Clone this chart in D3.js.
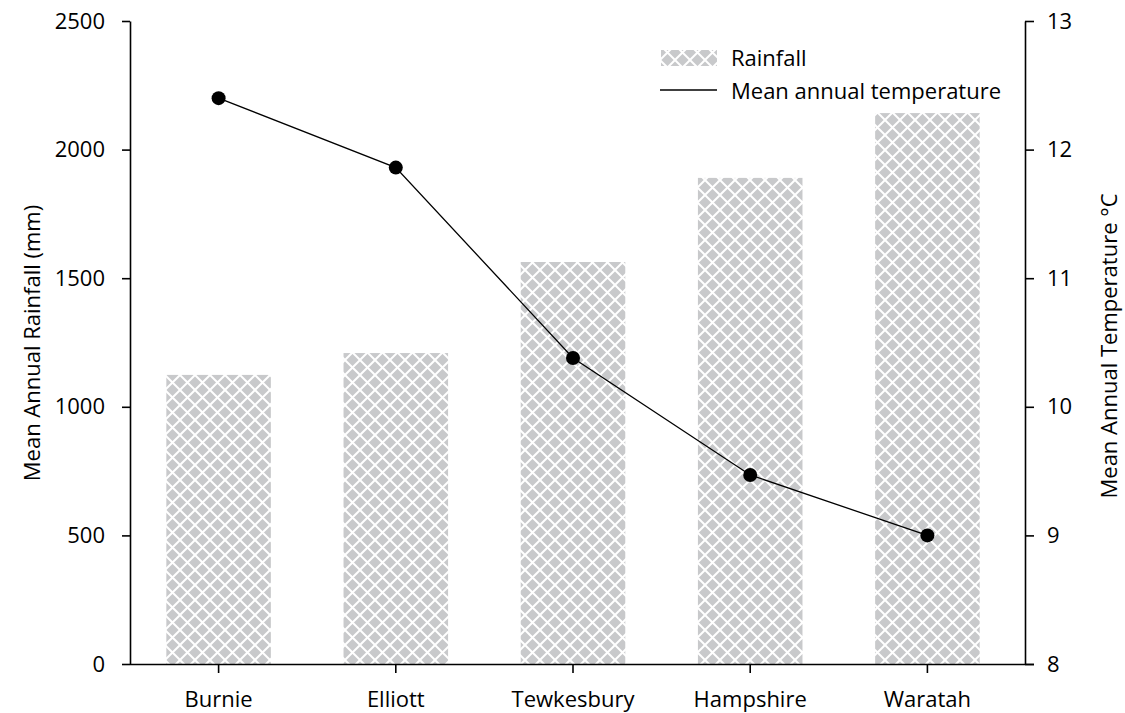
<!DOCTYPE html>
<html><head><meta charset="utf-8">
<script src="https://cdn.jsdelivr.net/npm/d3@7"></script>
<style>body{margin:0;background:#fff}svg{display:block}text{font-family:"Open Sans",sans-serif;fill:#000}</style>
</head><body><svg id="c" width="1125" height="713"></svg>
<script>
const sites = ["Burnie","Elliott","Tewkesbury","Hampshire","Waratah"];
const rainfall = [1124,1209,1563,1890,2142];
const temperature = [12.40,11.86,10.38,9.47,9.0];
const rainTicks = [0,500,1000,1500,2000,2500];
const tempTicks = [8,9,10,11,12,13];

const svg = d3.select("#c");
const L=130, R=1016, T=21, B=664, RA=1025;
const FS = 22;
const x = d3.scaleBand().domain(sites).range([L,R]).paddingInner(0.41).paddingOuter(0.205);
const yL = d3.scaleLinear().domain([0,2500]).range([B,T]);
const yR = d3.scaleLinear().domain([8,13]).range([B,T]);

const S = 15;
const defs = svg.append("defs");
const pat = defs.append("pattern").attr("id","hatch").attr("patternUnits","userSpaceOnUse")
  .attr("width",S).attr("height",S);
pat.append("rect").attr("width",S).attr("height",S).attr("fill","#c8c9cb");
pat.append("path").attr("d",`M-3,3 L3,-3 M0,${S} L${S},0 M${S-3},${S+3} L${S+3},${S-3} M-3,${S-3} L3,${S+3} M0,0 L${S},${S} M${S-3},-3 L${S+3},3`)
  .attr("stroke","#fff").attr("stroke-width",2);

svg.append("g").selectAll("rect").data(sites).join("rect")
  .attr("x",d=>x(d)).attr("width",x.bandwidth())
  .attr("y",(d,i)=>yL(rainfall[i])).attr("height",(d,i)=>B-yL(rainfall[i]))
  .attr("fill","url(#hatch)");

const line = d3.line().x((d,i)=>x(sites[i])+x.bandwidth()/2).y(d=>yR(d));
svg.append("path").datum(temperature).attr("d",line).attr("fill","none").attr("stroke","#000").attr("stroke-width",1.3);
svg.append("g").selectAll("circle").data(temperature).join("circle")
  .attr("cx",(d,i)=>x(sites[i])+x.bandwidth()/2).attr("cy",d=>yR(d)).attr("r",7).attr("fill","#000");

function style(g){g.selectAll("path,line").attr("stroke","#000").attr("stroke-width",1.6);g.selectAll("text").attr("font-size",FS).style("font-family","'Open Sans',sans-serif");}
svg.append("g").attr("transform",`translate(${L},0)`)
  .call(d3.axisLeft(yL).tickValues(rainTicks).tickFormat(d3.format("d")).tickSize(8).tickSizeOuter(0).tickPadding(17)).call(style);
svg.append("g").attr("transform",`translate(${RA},0)`)
  .call(d3.axisRight(yR).tickValues(tempTicks).tickFormat(d3.format("d")).tickSize(9).tickSizeOuter(0).tickPadding(13)).call(style);
const xa = svg.append("g").attr("transform",`translate(0,${B})`)
  .call(d3.axisBottom(x).tickSize(9).tickSizeOuter(0).tickPadding(18)).call(style);
xa.select(".domain").attr("d",`M${L},0.5H1034`);

svg.append("text").attr("transform","translate(40,343) rotate(-90)").attr("text-anchor","middle").attr("font-size",FS).text("Mean Annual Rainfall (mm)");
svg.append("text").attr("transform","translate(1117,346) rotate(-90)").attr("text-anchor","middle").attr("font-size",FS).text("Mean Annual Temperature °C");

const lg = svg.append("g");
lg.append("rect").attr("x",661).attr("y",50).attr("width",56).attr("height",16).attr("fill","url(#hatch)");
lg.append("line").attr("x1",660).attr("x2",717).attr("y1",90).attr("y2",90).attr("stroke","#000").attr("stroke-width",1.5);
lg.append("text").attr("x",731).attr("y",66).attr("font-size",FS).text("Rainfall");
lg.append("text").attr("x",731).attr("y",99).attr("font-size",FS).text("Mean annual temperature");
</script></body></html>
